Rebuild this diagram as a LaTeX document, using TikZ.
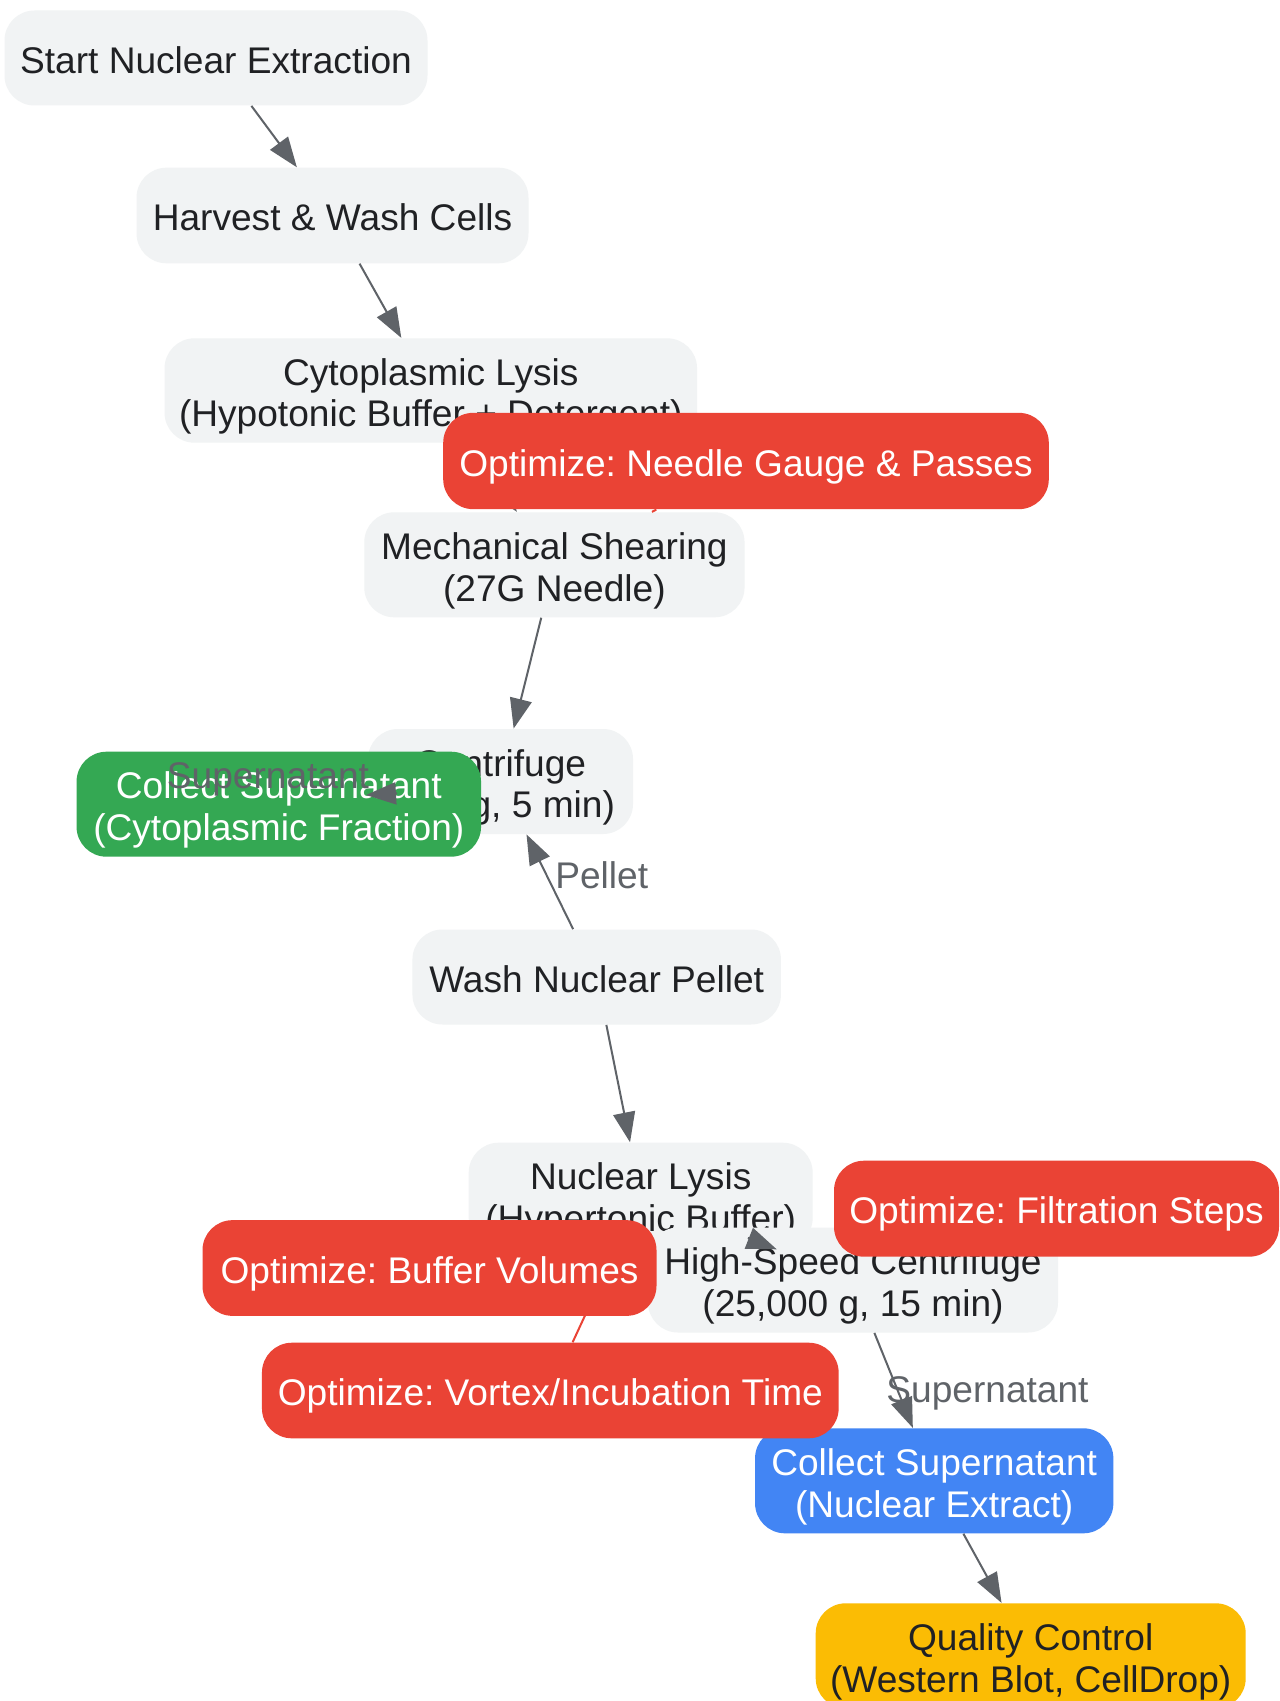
\documentclass[tikz,border=0pt]{standalone}
\usepackage{fontspec}
\setmainfont{Liberation Sans}
\usetikzlibrary{arrows.meta}
\pgfdeclarelayer{front}
\pgfsetlayers{main,front}
\definecolor{boxgray}{HTML}{F1F3F4}
\definecolor{txtdark}{HTML}{202124}
\definecolor{edgegray}{HTML}{5F6368}
\definecolor{optred}{HTML}{EA4335}
\definecolor{cytgreen}{HTML}{34A853}
\definecolor{nucblue}{HTML}{4285F4}
\definecolor{qcyellow}{HTML}{FBBC04}
\newcommand{\toppad}{\rule{0pt}{19.25pt}}
\frenchspacing
\tikzset{
  basebox/.style={rectangle, rounded corners=15pt, inner sep=0pt, align=center,
    font=\fontsize{18.55}{20.85}\selectfont\frenchspacing},
  oneline/.style={text height=16pt, text depth=0.8pt},
  stepbox/.style={basebox, fill=boxgray, text=txtdark},
  optbox/.style={basebox, oneline, fill=optred, text=white},
  greenbox/.style={basebox, fill=cytgreen, text=white},
  bluebox/.style={basebox, fill=nucblue, text=white},
  qcbox/.style={basebox, fill=qcyellow, text=txtdark},
  arr/.style={draw=edgegray, line width=1pt, -{Triangle[length=15pt,width=11pt]}},
  redlink/.style={draw=optred, line width=1pt},
  elabel/.style={font=\fontsize{18.55}{20.85}\selectfont, text=edgegray, anchor=base, inner sep=0pt}
}
\begin{document}
\begin{tikzpicture}[x=0.5pt,y=-0.5pt]
\fill[white] (0,0) rectangle (1279,1701);
\useasboundingbox (0,0) rectangle (1279,1701);

% optimisation notes (top layer)
\begin{pgfonlayer}{front}
\node[optbox, minimum width=302.8pt, minimum height=48.15pt] (needle) at (746,461) {Optimize: Needle Gauge \& Passes};
\node[optbox, minimum width=222.5pt, minimum height=48pt] (filt) at (1056.5,1208.7) {Optimize: Filtration Steps};
\node[optbox, minimum width=227pt, minimum height=47.85pt] (buffer) at (429.5,1268) {Optimize: Buffer Volumes};
\node[optbox, minimum width=288.35pt, minimum height=47.8pt] (vortex) at (550.3,1390.5) {Optimize: Vortex/Incubation Time};
\end{pgfonlayer}

% process steps
\node[stepbox, oneline, minimum width=211.5pt, minimum height=47.5pt] (start) at (216,58) {Start Nuclear Extraction};
\node[stepbox, oneline, minimum width=196pt, minimum height=47.8pt] (harvest) at (332.5,215.5) {Harvest \& Wash Cells};
\node[stepbox, minimum width=266.25pt, minimum height=52.2pt] (cyto) at (430.8,390.5) {\toppad Cytoplasmic Lysis\\(Hypotonic Buffer + Detergent)};
\node[stepbox, minimum width=190.15pt, minimum height=52.5pt] (mech) at (554.4,564.8) {\toppad Mechanical Shearing\\(27G Needle)};
\node[stepbox, minimum width=132.5pt, minimum height=52.5pt] (cent) at (500.5,781.5) {\toppad Centrifuge\\(500 g, 5 min)};
\node[greenbox, minimum width=202.25pt, minimum height=52.5pt] (cytfrac) at (278.8,804.2) {\toppad Collect Supernatant\\(Cytoplasmic Fraction)};
\node[stepbox, oneline, minimum width=184.25pt, minimum height=47.5pt] (wash) at (596.7,977) {Wash Nuclear Pellet};
\node[stepbox, minimum width=172pt, minimum height=52.5pt] (nl) at (640.7,1195.2) {\toppad Nuclear Lysis\\(Hypertonic Buffer)};
\node[stepbox, minimum width=205pt, minimum height=52.5pt] (hsc) at (853,1280) {\toppad High-Speed Centrifuge\\(25,000 g, 15 min)};
\node[bluebox, minimum width=179.15pt, minimum height=52.5pt] (nucext) at (934.2,1480.8) {\toppad Collect Supernatant\\(Nuclear Extract)};
\node[qcbox, minimum width=215pt, minimum height=52.5pt] (qc) at (1030.7,1655.8) {\toppad Quality Control\\(Western Blot, CellDrop)};

% connectors
\draw[arr] (start) -- (harvest);
\draw[arr] (harvest) -- (cyto);
\draw[arr] (cyto) -- (mech);
\draw[arr] (mech) -- (cent);
\coordinate (cfA) at (397,793.3);
\coordinate (cfB) at (366,795);
\draw[arr] (cfA) -- (cfB);
\draw[arr] (wash) -- (cent);
\draw[arr] (wash) -- (nl);
\coordinate (nlA) at (747.9,1237.9);
\coordinate (nlB) at (776.7,1249.3);
\draw[arr] (nlA) -- (nlB);
\draw[arr] (hsc) -- (nucext);
\draw[arr] (nucext) -- (qc);

% edge labels
\node[elabel] (lsupA) at (268,788) {Supernatant};
\node[elabel] (lpel) at (601.7,888.3) {Pellet};
\node[elabel] (lsupB) at (987.5,1402) {Supernatant};

% optimisation links
\draw[redlink] (needle) -- (mech);
\draw[redlink] (vortex) -- (nl);
\end{tikzpicture}
\end{document}
